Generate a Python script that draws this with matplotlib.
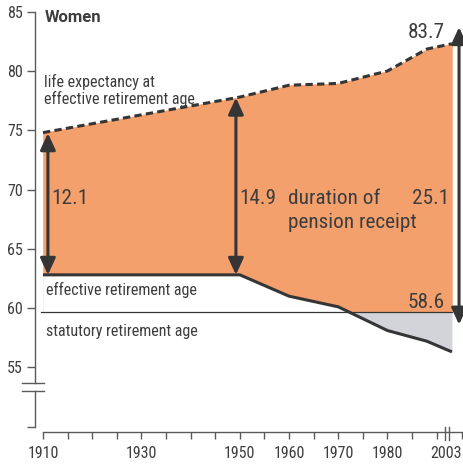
"""Women: life expectancy at effective retirement age vs. retirement ages."""

import matplotlib

matplotlib.use("Agg")
import matplotlib.pyplot as plt
import numpy as np

plt.rcParams["font.family"] = ["Roboto Condensed", "DejaVu Sans"]

# data
years = np.array([1910, 1950, 1960, 1970, 1980, 1988, 2003])
life_expectancy = np.array([74.8, 77.8, 78.8, 78.95, 80.0, 81.85, 82.3])
effective_age = np.array([62.8, 62.8, 61.0, 60.1, 58.1, 57.2, 56.3])
statutory_age = 59.65
duration_years = [1910, 1950]
duration_labels = ["12.1", "14.9"]
end_life = 83.7
end_effective = 58.6
end_duration = "25.1"

ORANGE = "#F4A06D"
GREY_FILL = "#D2D4D9"
DARK = "#353535"
TEXT = "#3d3d3d"
AXIS = "#5a5a5a"
BIG = 15.3
SMALL = 11.5

# x axis is squeezed after 1990
SQUEEZE = 0.238


def xpos(year):
    year = np.asarray(year, dtype=float)
    return np.where(year <= 1990, year, 1990 + (year - 1990) * SQUEEZE)


x = xpos(years)
x_end = float(x[-1])

fig = plt.figure(figsize=(4.64, 4.66), dpi=100)
ax = fig.add_axes([0, 0, 1, 1])
ax.set_xlim(1901.26, 1995.55)
ax.set_ylim(46.67, 85.99)

# areas: orange above max(effective, statutory), grey where effective < statutory
ax.fill_between(x, statutory_age, life_expectancy, color=ORANGE, lw=0.4, ec=ORANGE)
ax.fill_between(x, statutory_age, effective_age, where=effective_age >= statutory_age,
                interpolate=True, color="white", lw=0.4, ec="white")
ax.fill_between(x, statutory_age, effective_age, where=effective_age < statutory_age,
                interpolate=True, color=GREY_FILL, lw=0)

# lines
ax.plot([x[0] - 0.4, x_end], [statutory_age, statutory_age], color=DARK, lw=0.9)
ax.plot(x, effective_age, color=DARK, lw=2.2, solid_capstyle="butt")
ax.plot(x, life_expectancy, color=DARK, lw=2.2, dashes=(2.4, 1.4))

# double arrows
arrow = dict(arrowstyle="<|-|>,head_length=10,head_width=4.6", color=DARK,
             lw=2.2, mutation_scale=1, shrinkA=0, shrinkB=0)
offsets = [1.0, -0.8]
for year, label, off in zip(duration_years, duration_labels, offsets):
    i = list(years).index(year)
    xa = float(x[i]) + off
    ax.annotate("", xy=(xa, life_expectancy[i] - 0.05), xytext=(xa, effective_age[i]),
                arrowprops=arrow)
    ax.text(xa + 0.75, 69.2, label, fontsize=BIG, color=TEXT, va="center", ha="left")

x_arrow = x_end + 1.45
ax.annotate("", xy=(x_arrow, end_life), xytext=(x_arrow, end_effective), arrowprops=arrow)
ax.text(1985.0, 69.2, end_duration, fontsize=BIG, color=TEXT, va="center", ha="left")
ax.text(x_end - 1.4, 83.25, f"{end_life:.1f}", fontsize=BIG, color=TEXT,
        va="center", ha="right")
ax.text(x_end - 1.4, 60.45, f"{end_effective:.1f}", fontsize=BIG, color=TEXT,
        va="center", ha="right")

# labels
ax.text(1959.8, 69.2, "duration of", fontsize=BIG, color=TEXT, va="center")
ax.text(1959.8, 67.2, "pension receipt", fontsize=BIG, color=TEXT, va="center")
ax.text(1910.4, 84.55, "Women", fontsize=12, fontweight="bold", color=TEXT, va="center",
        family=["Roboto", "DejaVu Sans"])
ax.text(1910.1, 79.1, "life expectancy at", fontsize=SMALL, color=TEXT, va="center")
ax.text(1910.1, 77.6, "effective retirement age", fontsize=SMALL, color=TEXT, va="center")
ax.text(1910.7, 61.5, "effective retirement age", fontsize=SMALL, color=TEXT, va="center")
ax.text(1910.7, 58.05, "statutory retirement age", fontsize=SMALL, color=TEXT, va="center")

# axes
for side in ("top", "right"):
    ax.spines[side].set_visible(False)
y_axis_x = 1908.37
x_axis_y = 49.5
ax.spines["left"].set_position(("data", y_axis_x))
ax.spines["left"].set_bounds(53.67, 85)
ax.spines["bottom"].set_position(("data", x_axis_y))
x_tick_end = x_end + 2.0
ax.spines["bottom"].set_bounds(1910, x_tick_end)
for sp in ("left", "bottom"):
    ax.spines[sp].set_color(AXIS)
    ax.spines[sp].set_linewidth(1.0)

ax.plot([y_axis_x, y_axis_x], [50, 53.0], color=AXIS, lw=1.0)
for yb in (53.67, 53.0):
    ax.plot([1905.7, 1910.2], [yb, yb], color=AXIS, lw=1.0)
for xb in (1991.7, 1992.56):
    ax.plot([xb, xb], [48.9, 49.95], color=AXIS, lw=1.0)

ax.set_yticks(np.arange(50, 86, 5))
ax.set_yticklabels([""] + [str(v) for v in range(55, 86, 5)])
ax.tick_params(axis="y", direction="out", length=5.8, width=1.0, color=AXIS,
               pad=3, labelsize=11.5, labelcolor=TEXT)

labelled = {1910, 1930, 1950, 1960, 1970, 1980}
xt = list(range(1910, 1991, 5)) + [x_tick_end]
xl = [str(t) if t in labelled else "" for t in range(1910, 1991, 5)] + [str(years[-1])]
ax.set_xticks(xt)
ax.set_xticklabels(xl)
ax.tick_params(axis="x", direction="out", length=5, width=1.0, color=AXIS,
               pad=5, labelsize=11.5, labelcolor=TEXT)
ax.get_xticklabels()[-1].set_horizontalalignment("right")

fig.savefig("out.png", dpi=100)
